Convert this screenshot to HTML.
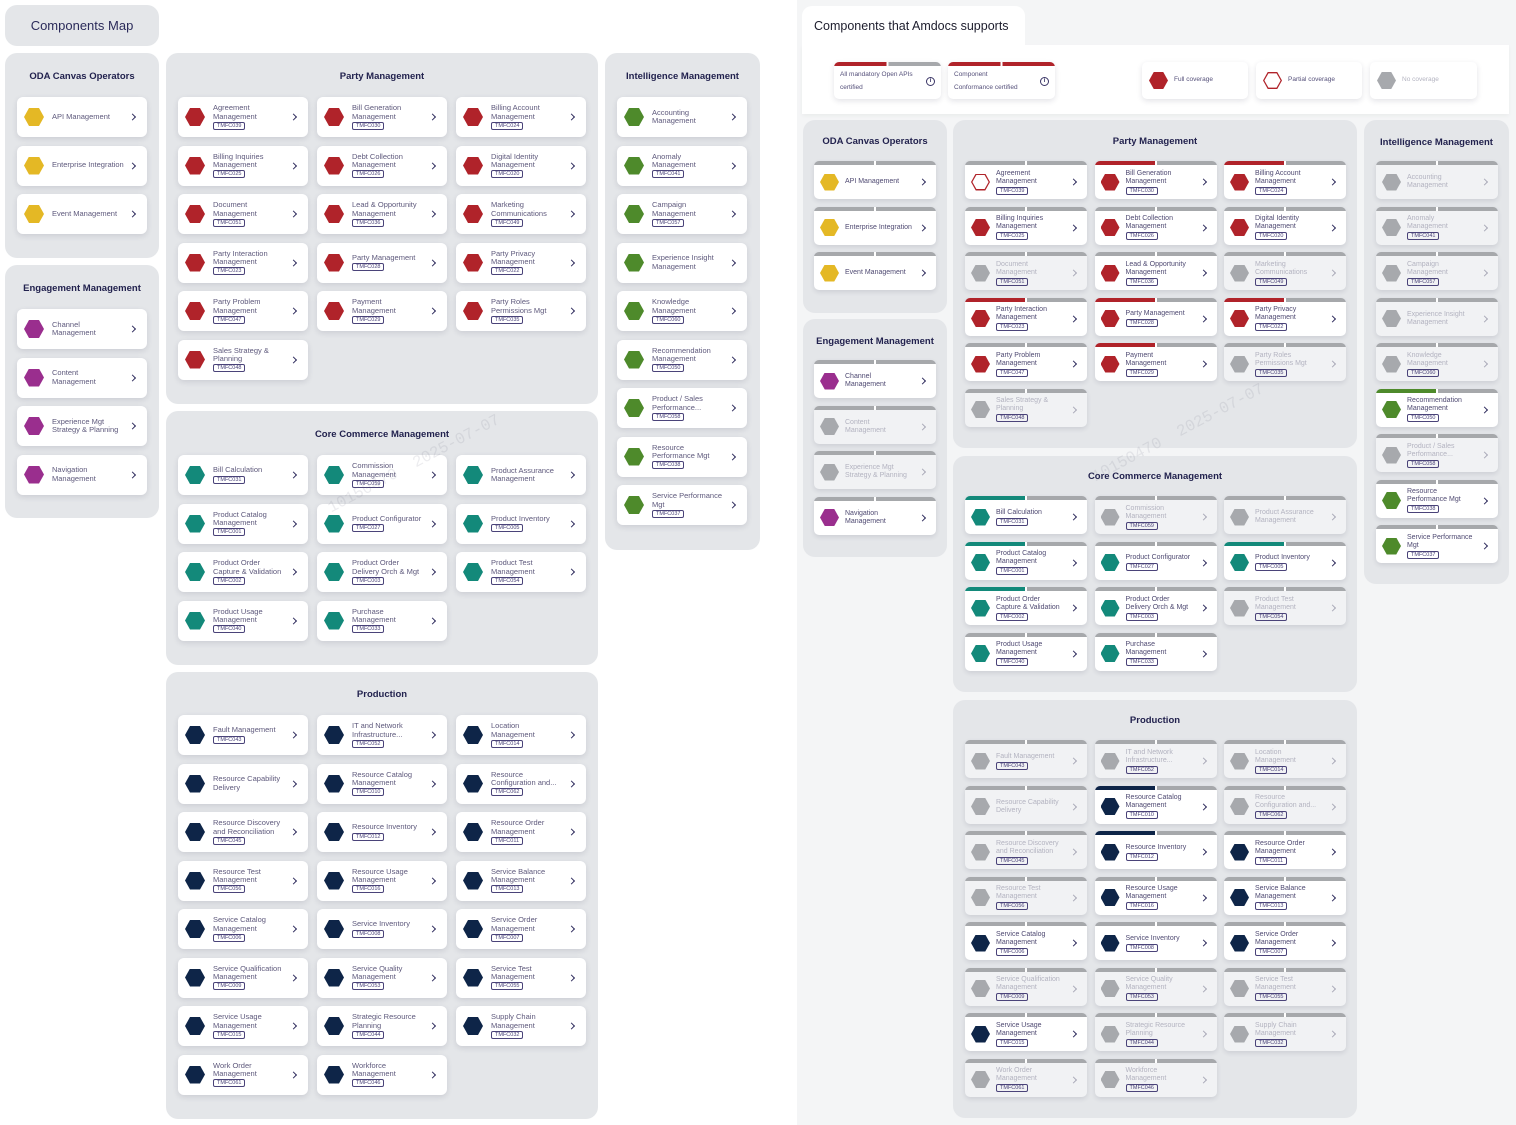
<!DOCTYPE html>
<html><head><meta charset="utf-8">
<style>
*{box-sizing:border-box}
body{margin:0;width:1516px;height:1125px;position:relative;background:#fff;font-family:"Liberation Sans",Arial,sans-serif;overflow:hidden}
.P{position:absolute;background:#e4e6e9;border-radius:12px}
.T{position:absolute;left:0;right:0;text-align:center;font-weight:bold;font-size:9.5px;color:#22224e;top:18px;line-height:12px;white-space:nowrap}
.G{position:absolute;display:grid}
.L .G{left:12px;top:44px;grid-template-columns:repeat(3,130px);column-gap:9px;row-gap:8.5px}
.L.one .G{grid-template-columns:130px}
.c{height:40px;background:#fff;border-radius:6px;box-shadow:0 2px 6px rgba(40,40,70,.13);display:flex;align-items:center;position:relative}
.c .hx{margin:0 8px 0 7px}
.hx{display:block;width:20px;height:18px;flex:none;clip-path:polygon(25% 0,75% 0,100% 50%,75% 100%,25% 100%,0 50%)}
.tx{font-size:7.5px;line-height:8.3px;color:#5e597c;white-space:nowrap}
.tg{display:inline-block;border:1px solid #4a4379;border-radius:2px;font-size:5.5px;line-height:6px;padding:0 3px;color:#4a4379;margin-top:1px}
.c::after,.k::after{content:"";position:absolute;right:12px;top:50%;width:4px;height:4px;border-top:1.5px solid #2e2b5c;border-right:1.5px solid #2e2b5c;transform:translateY(-50%) rotate(45deg)}
.R .G{left:12px;top:41px;grid-template-columns:repeat(3,122px);column-gap:7.5px;row-gap:7.5px}
.R.one .G{left:11px;grid-template-columns:122px}
.k{height:38px;padding-top:4px;border-radius:5px;background:linear-gradient(to right,var(--b,#a6a8ab) 0,var(--b,#a6a8ab) calc(50% - 1px),#fff calc(50% - 1px),#fff calc(50% + 1px),#a6a8ab calc(50% + 1px)) top/100% 4px no-repeat,#fff;display:flex;align-items:center;position:relative;box-shadow:0 2px 5px rgba(40,40,70,.12)}
.k::after{right:11px;margin-top:2px}
.k .hx{width:19px;height:17px;margin:0 6px}
.k .tx{font-size:7px;line-height:8px;color:#4f4a72}
.k.n{background-color:#f1f2f4}
.k.n .tx{color:#b3b3c0}
.k.n::after{border-color:#a9a9b8}
.br{--b:#b0232a}.bt{--b:#13897a}.bv{--b:#0e2548}.bg{--b:#4e8a2b}
.y{background:#e4b825}.p{background:#9a2e8e}.r{background:#b0232a}.t{background:#13897a}.g{background:#4e8a2b}.v{background:#0e2548}.x{background:#a7a9ad}
.o{background:#b0232a;position:relative}
.o::after{content:"";position:absolute;left:1.4px;top:1.4px;right:1.4px;bottom:1.4px;background:#fff;clip-path:polygon(25% 0,75% 0,100% 50%,75% 100%,25% 100%,0 50%)}
.wm{position:absolute;font-family:"Liberation Mono",monospace;font-size:16px;color:rgba(110,110,130,.13);white-space:pre;transform:rotate(-28deg);pointer-events:none}
.lg{position:absolute;top:62px;height:37px;width:107px;background:#fff;border-radius:5px;box-shadow:0 2px 6px rgba(40,40,70,.13)}
.lg .tx2{position:absolute;left:6px;top:6px;font-size:6.5px;line-height:13px;color:#55507a;white-space:nowrap}
.info{position:absolute;right:6px;top:15px;width:9px;height:9px;border:1px solid #3a3566;border-radius:50%;font-size:6px;line-height:7px;text-align:center;color:#3a3566;font-weight:bold}
.lg .hx{position:absolute;left:7px;top:10px;width:19px;height:17px}
.lg .lt{position:absolute;left:32px;top:14px;font-size:6.5px;color:#55507a;white-space:nowrap}
</style></head><body>

<!-- LEFT SIDE -->
<div class="P" style="left:5px;top:5px;width:154px;height:41px"><div style="text-align:center;font-size:13px;line-height:41px;color:#2b2b5a">Components Map</div></div>

<div class="P L one" style="left:5px;top:53px;width:154px;height:205px"><div class="T">ODA Canvas Operators</div><div class="G">
<div class="c"><i class="hx y"></i><div class="tx">API Management</div></div>
<div class="c"><i class="hx y"></i><div class="tx">Enterprise Integration</div></div>
<div class="c"><i class="hx y"></i><div class="tx">Event Management</div></div>
</div></div>

<div class="P L one" style="left:5px;top:265px;width:154px;height:253px"><div class="T">Engagement Management</div><div class="G">
<div class="c"><i class="hx p"></i><div class="tx">Channel<br>Management</div></div>
<div class="c"><i class="hx p"></i><div class="tx">Content<br>Management</div></div>
<div class="c"><i class="hx p"></i><div class="tx">Experience Mgt<br>Strategy &amp; Planning</div></div>
<div class="c"><i class="hx p"></i><div class="tx">Navigation<br>Management</div></div>
</div></div>

<div class="P L" style="left:166px;top:53px;width:432px;height:351px"><div class="T">Party Management</div><div class="G">
<div class="c"><i class="hx r"></i><div class="tx">Agreement<br>Management<br><span class="tg">TMFC039</span></div></div>
<div class="c"><i class="hx r"></i><div class="tx">Bill Generation<br>Management<br><span class="tg">TMFC030</span></div></div>
<div class="c"><i class="hx r"></i><div class="tx">Billing Account<br>Management<br><span class="tg">TMFC024</span></div></div>
<div class="c"><i class="hx r"></i><div class="tx">Billing Inquiries<br>Management<br><span class="tg">TMFC025</span></div></div>
<div class="c"><i class="hx r"></i><div class="tx">Debt Collection<br>Management<br><span class="tg">TMFC026</span></div></div>
<div class="c"><i class="hx r"></i><div class="tx">Digital Identity<br>Management<br><span class="tg">TMFC020</span></div></div>
<div class="c"><i class="hx r"></i><div class="tx">Document<br>Management<br><span class="tg">TMFC051</span></div></div>
<div class="c"><i class="hx r"></i><div class="tx">Lead &amp; Opportunity<br>Management<br><span class="tg">TMFC036</span></div></div>
<div class="c"><i class="hx r"></i><div class="tx">Marketing<br>Communications<br><span class="tg">TMFC049</span></div></div>
<div class="c"><i class="hx r"></i><div class="tx">Party Interaction<br>Management<br><span class="tg">TMFC023</span></div></div>
<div class="c"><i class="hx r"></i><div class="tx">Party Management<br><span class="tg">TMFC028</span></div></div>
<div class="c"><i class="hx r"></i><div class="tx">Party Privacy<br>Management<br><span class="tg">TMFC022</span></div></div>
<div class="c"><i class="hx r"></i><div class="tx">Party Problem<br>Management<br><span class="tg">TMFC047</span></div></div>
<div class="c"><i class="hx r"></i><div class="tx">Payment<br>Management<br><span class="tg">TMFC029</span></div></div>
<div class="c"><i class="hx r"></i><div class="tx">Party Roles<br>Permissions Mgt<br><span class="tg">TMFC035</span></div></div>
<div class="c"><i class="hx r"></i><div class="tx">Sales Strategy &amp;<br>Planning<br><span class="tg">TMFC048</span></div></div>
</div></div>

<div class="P L" style="left:166px;top:411px;width:432px;height:254px"><div class="T">Core Commerce Management</div><div class="G">
<div class="c"><i class="hx t"></i><div class="tx">Bill Calculation<br><span class="tg">TMFC031</span></div></div>
<div class="c"><i class="hx t"></i><div class="tx">Commission<br>Management<br><span class="tg">TMFC059</span></div></div>
<div class="c"><i class="hx t"></i><div class="tx">Product Assurance<br>Management</div></div>
<div class="c"><i class="hx t"></i><div class="tx">Product Catalog<br>Management<br><span class="tg">TMFC001</span></div></div>
<div class="c"><i class="hx t"></i><div class="tx">Product Configurator<br><span class="tg">TMFC027</span></div></div>
<div class="c"><i class="hx t"></i><div class="tx">Product Inventory<br><span class="tg">TMFC005</span></div></div>
<div class="c"><i class="hx t"></i><div class="tx">Product Order<br>Capture &amp; Validation<br><span class="tg">TMFC002</span></div></div>
<div class="c"><i class="hx t"></i><div class="tx">Product Order<br>Delivery Orch &amp; Mgt<br><span class="tg">TMFC003</span></div></div>
<div class="c"><i class="hx t"></i><div class="tx">Product Test<br>Management<br><span class="tg">TMFC054</span></div></div>
<div class="c"><i class="hx t"></i><div class="tx">Product Usage<br>Management<br><span class="tg">TMFC040</span></div></div>
<div class="c"><i class="hx t"></i><div class="tx">Purchase<br>Management<br><span class="tg">TMFC033</span></div></div>
</div></div>

<div class="P L" style="left:166px;top:672px;width:432px;height:447px"><div class="T" style="top:17px">Production</div><div class="G" style="top:43px">
<div class="c"><i class="hx v"></i><div class="tx">Fault Management<br><span class="tg">TMFC043</span></div></div>
<div class="c"><i class="hx v"></i><div class="tx">IT and Network<br>Infrastructure...<br><span class="tg">TMFC052</span></div></div>
<div class="c"><i class="hx v"></i><div class="tx">Location<br>Management<br><span class="tg">TMFC014</span></div></div>
<div class="c"><i class="hx v"></i><div class="tx">Resource Capability<br>Delivery</div></div>
<div class="c"><i class="hx v"></i><div class="tx">Resource Catalog<br>Management<br><span class="tg">TMFC010</span></div></div>
<div class="c"><i class="hx v"></i><div class="tx">Resource<br>Configuration and...<br><span class="tg">TMFC062</span></div></div>
<div class="c"><i class="hx v"></i><div class="tx">Resource Discovery<br>and Reconciliation<br><span class="tg">TMFC045</span></div></div>
<div class="c"><i class="hx v"></i><div class="tx">Resource Inventory<br><span class="tg">TMFC012</span></div></div>
<div class="c"><i class="hx v"></i><div class="tx">Resource Order<br>Management<br><span class="tg">TMFC011</span></div></div>
<div class="c"><i class="hx v"></i><div class="tx">Resource Test<br>Management<br><span class="tg">TMFC056</span></div></div>
<div class="c"><i class="hx v"></i><div class="tx">Resource Usage<br>Management<br><span class="tg">TMFC016</span></div></div>
<div class="c"><i class="hx v"></i><div class="tx">Service Balance<br>Management<br><span class="tg">TMFC013</span></div></div>
<div class="c"><i class="hx v"></i><div class="tx">Service Catalog<br>Management<br><span class="tg">TMFC006</span></div></div>
<div class="c"><i class="hx v"></i><div class="tx">Service Inventory<br><span class="tg">TMFC008</span></div></div>
<div class="c"><i class="hx v"></i><div class="tx">Service Order<br>Management<br><span class="tg">TMFC007</span></div></div>
<div class="c"><i class="hx v"></i><div class="tx">Service Qualification<br>Management<br><span class="tg">TMFC009</span></div></div>
<div class="c"><i class="hx v"></i><div class="tx">Service Quality<br>Management<br><span class="tg">TMFC053</span></div></div>
<div class="c"><i class="hx v"></i><div class="tx">Service Test<br>Management<br><span class="tg">TMFC055</span></div></div>
<div class="c"><i class="hx v"></i><div class="tx">Service Usage<br>Management<br><span class="tg">TMFC015</span></div></div>
<div class="c"><i class="hx v"></i><div class="tx">Strategic Resource<br>Planning<br><span class="tg">TMFC044</span></div></div>
<div class="c"><i class="hx v"></i><div class="tx">Supply Chain<br>Management<br><span class="tg">TMFC032</span></div></div>
<div class="c"><i class="hx v"></i><div class="tx">Work Order<br>Management<br><span class="tg">TMFC061</span></div></div>
<div class="c"><i class="hx v"></i><div class="tx">Workforce<br>Management<br><span class="tg">TMFC046</span></div></div>
</div></div>

<div class="P L one" style="left:605px;top:53px;width:155px;height:497px"><div class="T">Intelligence Management</div><div class="G">
<div class="c"><i class="hx g"></i><div class="tx">Accounting<br>Management</div></div>
<div class="c"><i class="hx g"></i><div class="tx">Anomaly<br>Management<br><span class="tg">TMFC041</span></div></div>
<div class="c"><i class="hx g"></i><div class="tx">Campaign<br>Management<br><span class="tg">TMFC057</span></div></div>
<div class="c"><i class="hx g"></i><div class="tx">Experience Insight<br>Management</div></div>
<div class="c"><i class="hx g"></i><div class="tx">Knowledge<br>Management<br><span class="tg">TMFC060</span></div></div>
<div class="c"><i class="hx g"></i><div class="tx">Recommendation<br>Management<br><span class="tg">TMFC050</span></div></div>
<div class="c"><i class="hx g"></i><div class="tx">Product / Sales<br>Performance...<br><span class="tg">TMFC058</span></div></div>
<div class="c"><i class="hx g"></i><div class="tx">Resource<br>Performance Mgt<br><span class="tg">TMFC038</span></div></div>
<div class="c"><i class="hx g"></i><div class="tx">Service Performance<br>Mgt<br><span class="tg">TMFC037</span></div></div>
</div></div>

<div class="wm" style="left:318px;top:455px">10150470  2025-07-07</div>

<!-- RIGHT SIDE -->
<div style="position:absolute;left:797px;top:0;width:719px;height:1125px;background:#f4f5f6"></div>
<div style="position:absolute;left:802px;top:45px;width:707px;height:69px;background:#fff;box-shadow:0 2px 4px rgba(0,0,0,.04)"></div>
<div style="position:absolute;left:802px;top:6px;width:223px;height:42px;background:#fff;border-radius:10px 10px 0 0"><div style="position:absolute;left:12px;top:13px;font-size:12.5px;color:#1d1d2d;white-space:nowrap">Components that Amdocs supports</div></div>

<div class="lg" style="left:834px;background:linear-gradient(to right,#b0232a 0,#b0232a calc(50% - 1px),#fff calc(50% - 1px),#fff calc(50% + 1px),#a6a8ab calc(50% + 1px)) top/100% 4px no-repeat,#fff"><div class="tx2">All mandatory Open APIs<br>certified</div><div class="info">i</div></div>
<div class="lg" style="left:948px;background:linear-gradient(to right,#b0232a 0,#b0232a calc(50% - 1px),#fff calc(50% - 1px),#fff calc(50% + 1px),#b0232a calc(50% + 1px)) top/100% 4px no-repeat,#fff"><div class="tx2">Component<br>Conformance certified</div><div class="info">i</div></div>
<div class="lg" style="left:1142px;width:106px"><i class="hx r"></i><div class="lt">Full coverage</div></div>
<div class="lg" style="left:1256px;width:106px"><i class="hx o"></i><div class="lt">Partial coverage</div></div>
<div class="lg" style="left:1370px;width:107px"><i class="hx x"></i><div class="lt" style="color:#b3b3c0">No coverage</div></div>

<div class="P R one" style="left:803px;top:120px;width:144px;height:193px"><div class="T" style="top:16px">ODA Canvas Operators</div><div class="G">
<div class="k"><i class="hx y"></i><div class="tx">API Management</div></div>
<div class="k"><i class="hx y"></i><div class="tx">Enterprise Integration</div></div>
<div class="k"><i class="hx y"></i><div class="tx">Event Management</div></div>
</div></div>

<div class="P R one" style="left:803px;top:319px;width:144px;height:238px"><div class="T" style="top:17px">Engagement Management</div><div class="G">
<div class="k"><i class="hx p"></i><div class="tx">Channel<br>Management</div></div>
<div class="k n"><i class="hx x"></i><div class="tx">Content<br>Management</div></div>
<div class="k n"><i class="hx x"></i><div class="tx">Experience Mgt<br>Strategy &amp; Planning</div></div>
<div class="k"><i class="hx p"></i><div class="tx">Navigation<br>Management</div></div>
</div></div>

<div class="P R" style="left:953px;top:120px;width:404px;height:328px"><div class="T" style="top:16px">Party Management</div><div class="G">
<div class="k"><i class="hx o"></i><div class="tx">Agreement<br>Management<br><span class="tg">TMFC039</span></div></div>
<div class="k br"><i class="hx r"></i><div class="tx">Bill Generation<br>Management<br><span class="tg">TMFC030</span></div></div>
<div class="k br"><i class="hx r"></i><div class="tx">Billing Account<br>Management<br><span class="tg">TMFC024</span></div></div>
<div class="k"><i class="hx r"></i><div class="tx">Billing Inquiries<br>Management<br><span class="tg">TMFC025</span></div></div>
<div class="k"><i class="hx r"></i><div class="tx">Debt Collection<br>Management<br><span class="tg">TMFC026</span></div></div>
<div class="k"><i class="hx r"></i><div class="tx">Digital Identity<br>Management<br><span class="tg">TMFC020</span></div></div>
<div class="k n"><i class="hx x"></i><div class="tx">Document<br>Management<br><span class="tg">TMFC051</span></div></div>
<div class="k"><i class="hx r"></i><div class="tx">Lead &amp; Opportunity<br>Management<br><span class="tg">TMFC036</span></div></div>
<div class="k n"><i class="hx x"></i><div class="tx">Marketing<br>Communications<br><span class="tg">TMFC049</span></div></div>
<div class="k br"><i class="hx r"></i><div class="tx">Party Interaction<br>Management<br><span class="tg">TMFC023</span></div></div>
<div class="k br"><i class="hx r"></i><div class="tx">Party Management<br><span class="tg">TMFC028</span></div></div>
<div class="k br"><i class="hx r"></i><div class="tx">Party Privacy<br>Management<br><span class="tg">TMFC022</span></div></div>
<div class="k"><i class="hx r"></i><div class="tx">Party Problem<br>Management<br><span class="tg">TMFC047</span></div></div>
<div class="k br"><i class="hx r"></i><div class="tx">Payment<br>Management<br><span class="tg">TMFC029</span></div></div>
<div class="k n"><i class="hx x"></i><div class="tx">Party Roles<br>Permissions Mgt<br><span class="tg">TMFC035</span></div></div>
<div class="k n"><i class="hx x"></i><div class="tx">Sales Strategy &amp;<br>Planning<br><span class="tg">TMFC048</span></div></div>
</div></div>

<div class="P R" style="left:953px;top:456px;width:404px;height:236px"><div class="T" style="top:15px">Core Commerce Management</div><div class="G" style="top:40px">
<div class="k bt"><i class="hx t"></i><div class="tx">Bill Calculation<br><span class="tg">TMFC031</span></div></div>
<div class="k n"><i class="hx x"></i><div class="tx">Commission<br>Management<br><span class="tg">TMFC059</span></div></div>
<div class="k n"><i class="hx x"></i><div class="tx">Product Assurance<br>Management</div></div>
<div class="k bt"><i class="hx t"></i><div class="tx">Product Catalog<br>Management<br><span class="tg">TMFC001</span></div></div>
<div class="k"><i class="hx t"></i><div class="tx">Product Configurator<br><span class="tg">TMFC027</span></div></div>
<div class="k bt"><i class="hx t"></i><div class="tx">Product Inventory<br><span class="tg">TMFC005</span></div></div>
<div class="k bt"><i class="hx t"></i><div class="tx">Product Order<br>Capture &amp; Validation<br><span class="tg">TMFC002</span></div></div>
<div class="k"><i class="hx t"></i><div class="tx">Product Order<br>Delivery Orch &amp; Mgt<br><span class="tg">TMFC003</span></div></div>
<div class="k n"><i class="hx x"></i><div class="tx">Product Test<br>Management<br><span class="tg">TMFC054</span></div></div>
<div class="k"><i class="hx t"></i><div class="tx">Product Usage<br>Management<br><span class="tg">TMFC040</span></div></div>
<div class="k"><i class="hx t"></i><div class="tx">Purchase<br>Management<br><span class="tg">TMFC033</span></div></div>
</div></div>

<div class="P R" style="left:953px;top:700px;width:404px;height:418px"><div class="T" style="top:15px">Production</div><div class="G" style="top:40px">
<div class="k n"><i class="hx x"></i><div class="tx">Fault Management<br><span class="tg">TMFC043</span></div></div>
<div class="k n"><i class="hx x"></i><div class="tx">IT and Network<br>Infrastructure...<br><span class="tg">TMFC052</span></div></div>
<div class="k n"><i class="hx x"></i><div class="tx">Location<br>Management<br><span class="tg">TMFC014</span></div></div>
<div class="k n"><i class="hx x"></i><div class="tx">Resource Capability<br>Delivery</div></div>
<div class="k bv"><i class="hx v"></i><div class="tx">Resource Catalog<br>Management<br><span class="tg">TMFC010</span></div></div>
<div class="k n"><i class="hx x"></i><div class="tx">Resource<br>Configuration and...<br><span class="tg">TMFC062</span></div></div>
<div class="k n"><i class="hx x"></i><div class="tx">Resource Discovery<br>and Reconciliation<br><span class="tg">TMFC045</span></div></div>
<div class="k bv"><i class="hx v"></i><div class="tx">Resource Inventory<br><span class="tg">TMFC012</span></div></div>
<div class="k"><i class="hx v"></i><div class="tx">Resource Order<br>Management<br><span class="tg">TMFC011</span></div></div>
<div class="k n"><i class="hx x"></i><div class="tx">Resource Test<br>Management<br><span class="tg">TMFC056</span></div></div>
<div class="k"><i class="hx v"></i><div class="tx">Resource Usage<br>Management<br><span class="tg">TMFC016</span></div></div>
<div class="k"><i class="hx v"></i><div class="tx">Service Balance<br>Management<br><span class="tg">TMFC013</span></div></div>
<div class="k"><i class="hx v"></i><div class="tx">Service Catalog<br>Management<br><span class="tg">TMFC006</span></div></div>
<div class="k"><i class="hx v"></i><div class="tx">Service Inventory<br><span class="tg">TMFC008</span></div></div>
<div class="k"><i class="hx v"></i><div class="tx">Service Order<br>Management<br><span class="tg">TMFC007</span></div></div>
<div class="k n"><i class="hx x"></i><div class="tx">Service Qualification<br>Management<br><span class="tg">TMFC009</span></div></div>
<div class="k n"><i class="hx x"></i><div class="tx">Service Quality<br>Management<br><span class="tg">TMFC053</span></div></div>
<div class="k n"><i class="hx x"></i><div class="tx">Service Test<br>Management<br><span class="tg">TMFC055</span></div></div>
<div class="k"><i class="hx v"></i><div class="tx">Service Usage<br>Management<br><span class="tg">TMFC015</span></div></div>
<div class="k n"><i class="hx x"></i><div class="tx">Strategic Resource<br>Planning<br><span class="tg">TMFC044</span></div></div>
<div class="k n"><i class="hx x"></i><div class="tx">Supply Chain<br>Management<br><span class="tg">TMFC032</span></div></div>
<div class="k n"><i class="hx x"></i><div class="tx">Work Order<br>Management<br><span class="tg">TMFC061</span></div></div>
<div class="k n"><i class="hx x"></i><div class="tx">Workforce<br>Management<br><span class="tg">TMFC046</span></div></div>
</div></div>

<div class="P R one" style="left:1364px;top:120px;width:145px;height:464px"><div class="T" style="top:17px">Intelligence Management</div><div class="G" style="left:12px">
<div class="k n"><i class="hx x"></i><div class="tx">Accounting<br>Management</div></div>
<div class="k n"><i class="hx x"></i><div class="tx">Anomaly<br>Management<br><span class="tg">TMFC041</span></div></div>
<div class="k n"><i class="hx x"></i><div class="tx">Campaign<br>Management<br><span class="tg">TMFC057</span></div></div>
<div class="k n"><i class="hx x"></i><div class="tx">Experience Insight<br>Management</div></div>
<div class="k n"><i class="hx x"></i><div class="tx">Knowledge<br>Management<br><span class="tg">TMFC060</span></div></div>
<div class="k bg"><i class="hx g"></i><div class="tx">Recommendation<br>Management<br><span class="tg">TMFC050</span></div></div>
<div class="k n"><i class="hx x"></i><div class="tx">Product / Sales<br>Performance...<br><span class="tg">TMFC058</span></div></div>
<div class="k"><i class="hx g"></i><div class="tx">Resource<br>Performance Mgt<br><span class="tg">TMFC038</span></div></div>
<div class="k"><i class="hx g"></i><div class="tx">Service Performance<br>Mgt<br><span class="tg">TMFC037</span></div></div>
</div></div>

<div class="wm" style="left:1082px;top:424px">10150470  2025-07-07</div>

</body></html>
